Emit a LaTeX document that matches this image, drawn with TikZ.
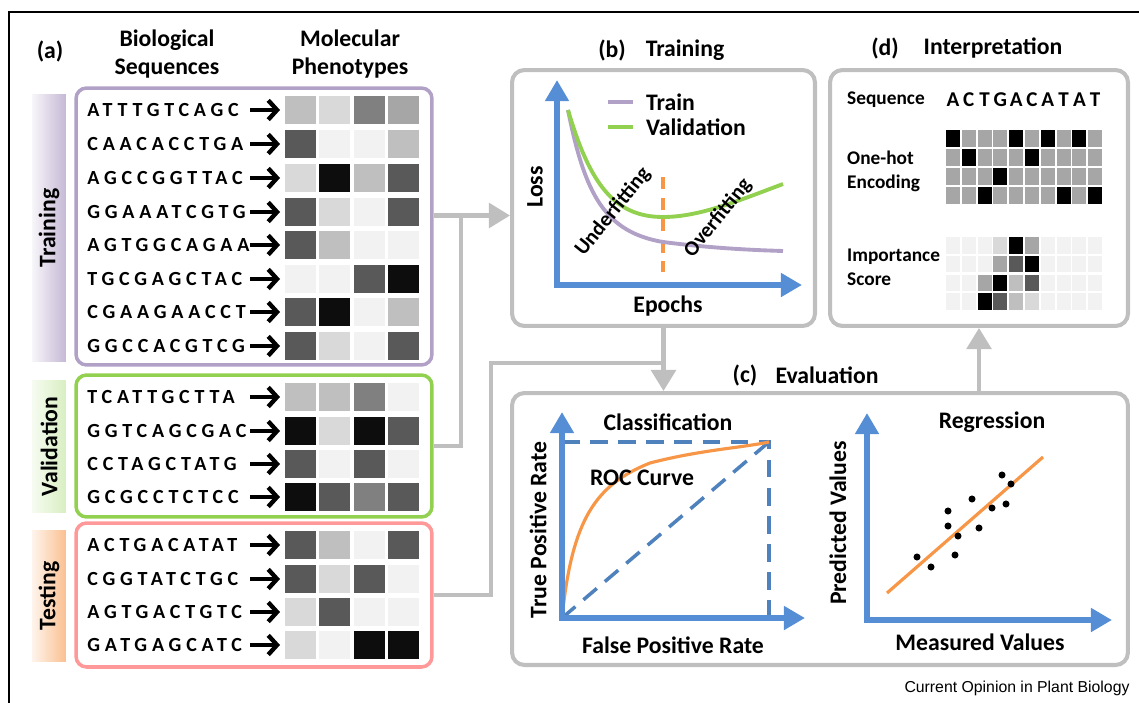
\documentclass[tikz,border=0pt]{standalone}
\usepackage{fontspec}
\setmainfont{Carlito}
\newfontfamily\seqfont[LetterSpace=24]{Carlito}
\newfontfamily\credfont{Liberation Sans}
\usepackage{tikz}
\usetikzlibrary{arrows.meta, calc}
\definecolor{gF2}{HTML}{F2F2F2}
\definecolor{gD9}{HTML}{D9D9D9}
\definecolor{gBF}{HTML}{BFBFBF}
\definecolor{gA6}{HTML}{A6A6A6}
\definecolor{g80}{HTML}{808080}
\definecolor{g59}{HTML}{595959}
\definecolor{g0D}{HTML}{0D0D0D}
\definecolor{g00}{HTML}{000000}
\definecolor{oh0}{HTML}{A6A6A6}
\definecolor{oh1}{HTML}{000000}
\definecolor{trainc}{RGB}{178,161,199}
\definecolor{validc}{RGB}{146,208,80}
\definecolor{testc}{RGB}{255,153,153}
\definecolor{panelc}{RGB}{191,191,191}
\definecolor{axisc}{RGB}{85,142,213}
\definecolor{dashc}{RGB}{79,129,189}
\definecolor{orangec}{RGB}{247,150,70}

\begin{document}
\begin{tikzpicture}[x=0.02cm, y=-0.02cm,
  ttl/.style={font=\fontsize{13.5}{16}\selectfont\bfseries},
  lbl/.style={font=\fontsize{11}{13.5}\selectfont\bfseries, anchor=west},
  seq/.style={font=\seqfont\fontsize{11.4}{13}\selectfont\bfseries, anchor=west, inner sep=0pt},
  seqarr/.style={line width=2.5pt, -{Straight Barb[length=5pt,width=11pt]}},
  setbox/.style={draw, line width=2pt, rounded corners=6pt, fill=white, minimum width=7.12cm},
  tabbox/.style={minimum width=0.68cm, inner sep=0pt},
  panel/.style={draw=panelc, line width=2.3pt, rounded corners=7pt},
  conn/.style={draw=panelc, line width=2.3pt, -{Triangle[length=12pt,width=14pt]}},
  link/.style={draw=panelc, line width=2.3pt},
  axis/.style={draw=axisc, line width=3.4pt, line join=miter, >={Triangle[length=12pt,width=13pt]}, <->},
  bdash/.style={draw=dashc, line width=2pt, dash pattern=on 10pt off 6pt},
  curvetr/.style={draw=trainc, line width=2.2pt},
  curveva/.style={draw=validc, line width=2.2pt}
]
\useasboundingbox (0,0) rectangle (1139,703);
\draw[line width=0.8pt] (9,703) -- (9,12) -- (1139,12);

%% (a) data sets
\node[ttl] (lbla) at (50,51) {(a)};
\node[ttl, align=center] (hseq) at (167,54) {Biological\\Sequences};
\node[ttl, align=center] (hphe) at (350,54) {Molecular\\Phenotypes};

\node[setbox, draw=trainc, minimum height=5.54cm] (train) at (254,226.5) {};
\node[setbox, draw=validc, minimum height=2.84cm] (valid) at (254,446) {};
\node[setbox, draw=testc, minimum height=2.88cm] (test) at (254,595) {};

\node[tabbox, left color=trainc!10, right color=trainc!75, minimum height=5.34cm] (ttrain) at (49,228) {};
\node[ttl, rotate=90] (ltrain) at (ttrain) {Training};
\node[tabbox, left color=validc!8, right color=validc!35, minimum height=2.66cm] (tvalid) at (49,446.5) {};
\node[ttl, rotate=90] (lvalid) at (tvalid) {Validation};
\node[tabbox, left color=orangec!10, right color=orangec!60, minimum height=2.64cm] (ttest) at (49,596) {};
\node[ttl, rotate=90] (ltest) at (ttest) {Testing};

\foreach \y/\s/\a/\b/\c/\d in {
  110/ATTTGTCAGC/BF/D9/80/A6, 144/CAACACCTGA/59/F2/F2/BF,
  178/AGCCGGTTAC/D9/0D/BF/59, 212/GGAAATCGTG/59/D9/F2/59,
  245/AGTGGCAGAA/59/BF/F2/F2, 279/TGCGAGCTAC/F2/F2/59/0D,
  312/CGAAGAACCT/59/0D/F2/BF, 346/GGCCACGTCG/59/D9/F2/59,
  397/TCATTGCTTA/BF/BF/80/F2, 431/GGTCAGCGAC/0D/D9/0D/59,
  464/CCTAGCTATG/59/F2/59/F2, 497/GCGCCTCTCC/0D/59/80/59,
  545/ACTGACATAT/59/BF/F2/59, 579/CGGTATCTGC/59/D9/59/F2,
  612/AGTGACTGTC/D9/59/F2/F2, 645/GATGAGCATC/D9/F2/0D/0D} {
  \node[seq] (s\y) at (87,\y) {\s};
  \draw[seqarr] (250,\y) -- (280,\y);
  \foreach \v [count=\i from 0] in {\a,\b,\c,\d}
    \fill[g\v] (285+34.3*\i,\y-14) rectangle ++(31,28);
}

%% connectors
\node[panel, minimum width=6.06cm, minimum height=5.12cm] (panb) at (663.5,198) {};
\node[panel, minimum width=5.96cm, minimum height=5.12cm] (pand) at (979,198) {};
\node[panel, minimum width=12.32cm, minimum height=5.44cm] (panc) at (820,529) {};
\coordinate (jt) at ($(train.east)+(0,-11)$);
\coordinate (split) at ($(jt)+(27,0)$);
\coordinate (join) at ($(panb.south)+(0,35)$);
\draw[conn] (jt) -- (jt -| panb.west);
\draw[link] (valid.east) -| (split);
\draw[link] (test.east) -- ++(57,0) |- (join);
\draw[conn] (panb.south) -- (panb.south |- panc.north);
\draw[conn] (pand.south |- panc.north) -- (pand.south);

%% (b) training
\node[ttl] (lblb) at (612,50) {(b)};
\node[ttl] (ttlb) at (685,50) {Training};
\draw[axis] (557,80) -- (557,285) -- (802,285);
\node[ttl, rotate=90] (loss) at (535,187) {Loss};
\node[ttl] (epochs) at (668,306) {Epochs};
\draw[curvetr] (608,102) -- (633,102);
\node[ttl, anchor=west] (legtr) at (640,102) {Train};
\draw[curveva] (608,127) -- (633,127);
\node[ttl, anchor=west] (legva) at (640,127) {Validation};
\draw[orangec, line width=2.2pt, dash pattern=on 7pt off 5pt] (663,177) -- (663,272);
\draw[curvetr] (568,110) .. controls (585,195) and (605,232) .. (663,242)
  .. controls (710,248) and (750,250) .. (783,251);
\draw[curveva] (568,110) .. controls (590,185) and (615,217) .. (663,217)
  .. controls (700,217) and (740,200) .. (783,184);
\node[font=\fontsize{12}{14}\selectfont\bfseries, rotate=51] (under) at (613,212) {Underfitting};
\node[font=\fontsize{12}{14}\selectfont\bfseries, rotate=51] (over) at (718,218) {Overfitting};

%% (d) interpretation
\node[ttl] (lbld) at (885,48) {(d)};
\node[ttl] (ttld) at (993,48) {Interpretation};
\node[lbl] (seqlbl) at (841,100) {Sequence};
\foreach \ch [count=\i from 0] in {A,C,T,G,A,C,A,T,A,T}
  \node[font=\fontsize{12}{13}\selectfont\bfseries] (sq\i) at (953+15.8*\i,100) {\ch};
\node[lbl, align=left] (ohlbl) at (841,171) {One-hot\\Encoding};
\foreach \r/\row in {0/{1,0,0,0,1,0,1,0,1,0}, 1/{0,1,0,0,0,1,0,0,0,0},
                     2/{0,0,0,1,0,0,0,0,0,0}, 3/{0,0,1,0,0,0,0,1,0,1}}
  \foreach \v [count=\c from 0] in \row
    \fill[oh\v] (946+15.8*\c,130+19*\r) rectangle ++(14,17);
\node[lbl, align=left] (imlbl) at (841,267) {Importance\\Score};
\foreach \r/\row in {0/{F2,F2,F2,D9,00,A6,F2,F2,F2,F2}, 1/{F2,F2,F2,A6,59,00,F2,F2,F2,F2},
                     2/{F2,F2,A6,00,BF,59,F2,F2,F2,F2}, 3/{F2,F2,00,59,BF,D9,F2,F2,F2,F2}}
  \foreach \v [count=\c from 0] in \row
    \fill[g\v] (946+15.8*\c,237+18.8*\r) rectangle ++(14,16.5);

%% (c) evaluation
\node[ttl] (lblc) at (745,375) {(c)};
\node[ttl] (ttlc) at (827,375) {Evaluation};
% classification
\node[ttl] (clsf) at (668,422) {Classification};
\draw[bdash] (562,442) -- (769,442) -- (769,618);
\draw[bdash] (562,618) -- (769,442);
\draw[orangec, line width=1.8pt] (562,618) .. controls (572,520) and (595,485) .. (650,463)
  .. controls (700,450) and (740,448) .. (769,442);
\draw[axis] (562,412) -- (562,618) -- (805,618);
\node[ttl] (roc) at (642,478) {ROC Curve};
\node[ttl, rotate=90] (tpr) at (538,530) {True Positive Rate};
\node[ttl] (fpr) at (673,645) {False Positive Rate};
% regression
\node[ttl] (regr) at (992,422) {Regression};
\draw[orangec, line width=1.8pt] (887,593) -- (1043,457);
\foreach \px/\py in {1002/475, 1011/484, 972/499, 992/508, 1006/504, 948/511,
                     948/526, 979/528, 958/536, 917/557, 931/567, 955/555}
  \fill (\px,\py) circle[radius=2pt];
\draw[axis] (867,413) -- (867,620) -- (1112,620);
\node[ttl, rotate=90] (pred) at (838,523) {Predicted Values};
\node[ttl] (meas) at (980,642) {Measured Values};

\node[font=\credfont\fontsize{9}{11}\selectfont] (cred) at (1017,688) {Current Opinion in Plant Biology};
\end{tikzpicture}
\end{document}
